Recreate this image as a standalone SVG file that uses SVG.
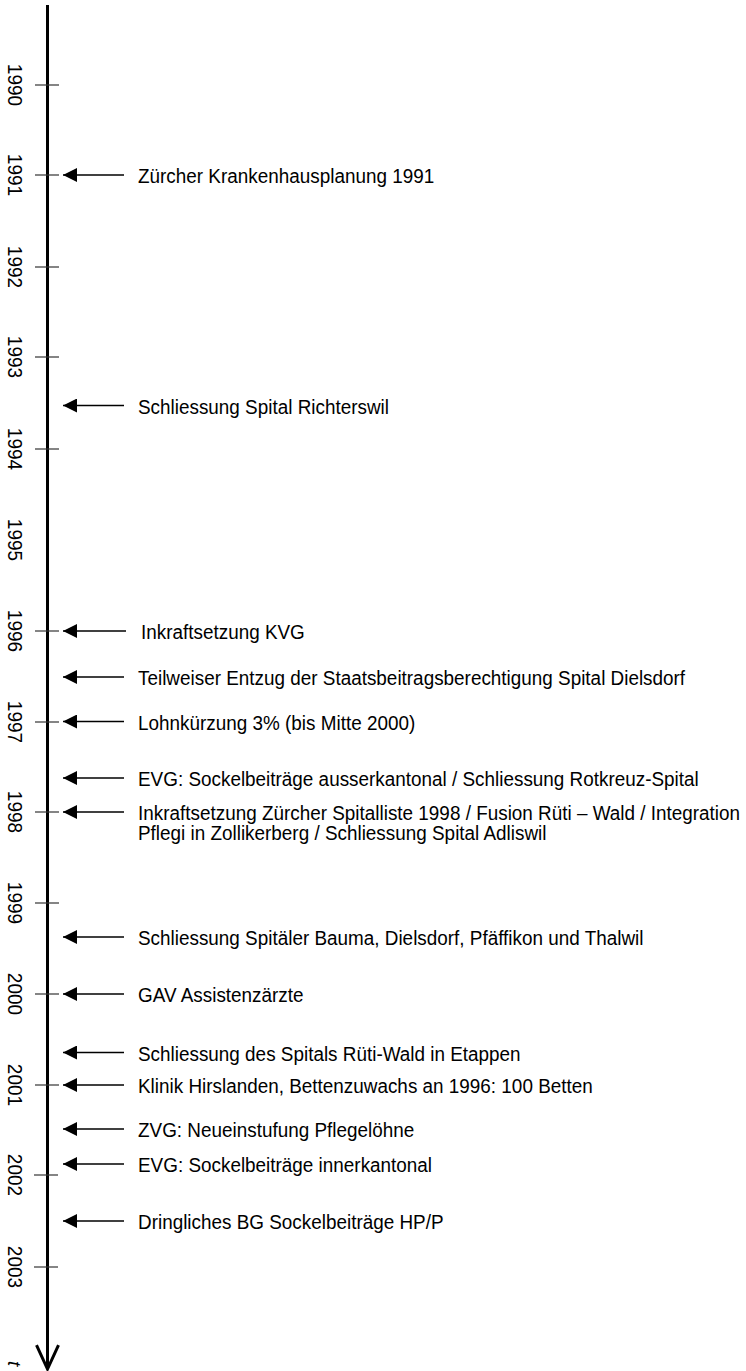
<svg xmlns="http://www.w3.org/2000/svg" width="746" height="1371" viewBox="0 0 746 1371">
<style>
.axis{stroke:#000;stroke-width:3;fill:none}
.tick{stroke:#333;stroke-width:1.2}
.conn{stroke:#000;stroke-width:1.3;fill:none}
.ev{font-family:"Liberation Sans",Arial,sans-serif;font-size:18.9px;fill:#000}
.yr{font-family:"Liberation Sans",Arial,sans-serif;font-size:19px;fill:#000;text-anchor:middle}
</style>
<defs>
<marker id="ah" markerWidth="14" markerHeight="14" refX="14" refY="7" orient="auto" markerUnits="userSpaceOnUse"><path d="M0,0 L14,7 L0,14 Z" fill="#000"/></marker>
</defs>
<rect width="746" height="1371" fill="#fff"/>
<g id="axis">
<line class="axis" x1="47.5" y1="5" x2="47.5" y2="1369"/>
<path class="axis" d="M36.5,1345 L47.5,1369 L58.5,1345" stroke-width="2.5"/>
<text transform="translate(8,1361) rotate(90)" class="ev" font-style="italic">t</text>
</g>
<g id="years">
<g id="y1990"><line class="tick" x1="35" y1="85" x2="59" y2="85"/><text class="yr" transform="translate(8,85) rotate(90) scale(1,1.1)">1990</text></g>
<g id="y1991"><line class="tick" x1="35" y1="175" x2="59" y2="175"/><text class="yr" transform="translate(8,175) rotate(90) scale(1,1.1)">1991</text></g>
<g id="y1992"><line class="tick" x1="35" y1="267" x2="59" y2="267"/><text class="yr" transform="translate(8,267) rotate(90) scale(1,1.1)">1992</text></g>
<g id="y1993"><line class="tick" x1="35" y1="357" x2="59" y2="357"/><text class="yr" transform="translate(8,357) rotate(90) scale(1,1.1)">1993</text></g>
<g id="y1994"><line class="tick" x1="35" y1="449" x2="59" y2="449"/><text class="yr" transform="translate(8,449) rotate(90) scale(1,1.1)">1994</text></g>
<g id="y1995"><text class="yr" transform="translate(8,540) rotate(90) scale(1,1.1)">1995</text></g>
<g id="y1996"><line class="tick" x1="35" y1="631" x2="59" y2="631"/><text class="yr" transform="translate(8,631) rotate(90) scale(1,1.1)">1996</text></g>
<g id="y1997"><line class="tick" x1="35" y1="722" x2="59" y2="722"/><text class="yr" transform="translate(8,722) rotate(90) scale(1,1.1)">1997</text></g>
<g id="y1998"><line class="tick" x1="35" y1="812" x2="59" y2="812"/><text class="yr" transform="translate(8,812) rotate(90) scale(1,1.1)">1998</text></g>
<g id="y1999"><line class="tick" x1="35" y1="903" x2="59" y2="903"/><text class="yr" transform="translate(8,903) rotate(90) scale(1,1.1)">1999</text></g>
<g id="y2000"><line class="tick" x1="35" y1="994" x2="59" y2="994"/><text class="yr" transform="translate(8,994) rotate(90) scale(1,1.1)">2000</text></g>
<g id="y2001"><line class="tick" x1="35" y1="1085" x2="59" y2="1085"/><text class="yr" transform="translate(8,1085) rotate(90) scale(1,1.1)">2001</text></g>
<g id="y2002"><line class="tick" x1="34" y1="1175" x2="58" y2="1175"/><text class="yr" transform="translate(8,1175) rotate(90) scale(1,1.1)">2002</text></g>
<g id="y2003"><line class="tick" x1="34" y1="1267" x2="58" y2="1267"/><text class="yr" transform="translate(8,1267) rotate(90) scale(1,1.1)">2003</text></g>
</g>
<g id="connectors">
<line class="conn" x1="124" y1="175" x2="63" y2="175" marker-end="url(#ah)"/>
<line class="conn" x1="124" y1="405.5" x2="63" y2="405.5" marker-end="url(#ah)"/>
<line class="conn" x1="126" y1="631" x2="63" y2="631" marker-end="url(#ah)"/>
<line class="conn" x1="124" y1="677" x2="63" y2="677" marker-end="url(#ah)"/>
<line class="conn" x1="124" y1="721.5" x2="63" y2="721.5" marker-end="url(#ah)"/>
<line class="conn" x1="124" y1="778" x2="63" y2="778" marker-end="url(#ah)"/>
<line class="conn" x1="124" y1="812" x2="63" y2="812" marker-end="url(#ah)"/>
<line class="conn" x1="124" y1="937" x2="63" y2="937" marker-end="url(#ah)"/>
<line class="conn" x1="124" y1="994" x2="63" y2="994" marker-end="url(#ah)"/>
<line class="conn" x1="124" y1="1052.5" x2="63" y2="1052.5" marker-end="url(#ah)"/>
<line class="conn" x1="124" y1="1085" x2="63" y2="1085" marker-end="url(#ah)"/>
<line class="conn" x1="124" y1="1129" x2="63" y2="1129" marker-end="url(#ah)"/>
<line class="conn" x1="124" y1="1164" x2="63" y2="1164" marker-end="url(#ah)"/>
<line class="conn" x1="124" y1="1221" x2="63" y2="1221" marker-end="url(#ah)"/>
</g>
<g id="e1991" transform="translate(138,183) scale(1,1.1)"><text class="ev">Zürcher Krankenhausplanung 1991</text></g>
<g id="e1993" transform="translate(138,413.5) scale(1,1.1)"><text class="ev">Schliessung Spital Richterswil</text></g>
<g id="e1996a" transform="translate(141,639) scale(1,1.1)"><text class="ev">Inkraftsetzung KVG</text></g>
<g id="e1996b" transform="translate(138,685) scale(1,1.1)"><text class="ev">Teilweiser Entzug der Staatsbeitragsberechtigung Spital Dielsdorf</text></g>
<g id="e1997a" transform="translate(138,729.5) scale(1,1.1)"><text class="ev">Lohnkürzung 3% (bis Mitte 2000)</text></g>
<g id="e1997b" transform="translate(138,786) scale(1,1.1)"><text class="ev">EVG: Sockelbeiträge ausserkantonal / Schliessung Rotkreuz-Spital</text></g>
<g id="e1998" transform="translate(138,819.5) scale(1,1.1)"><text class="ev">Inkraftsetzung Zürcher Spitalliste 1998 / Fusion Rüti – Wald / Integration<tspan x="0" dy="18.8">Pflegi in Zollikerberg / Schliessung Spital Adliswil</tspan></text></g>
<g id="e1999" transform="translate(138,945) scale(1,1.1)"><text class="ev">Schliessung Spitäler Bauma, Dielsdorf, Pfäffikon und Thalwil</text></g>
<g id="e2000a" transform="translate(138,1002) scale(1,1.1)"><text class="ev">GAV Assistenzärzte</text></g>
<g id="e2000b" transform="translate(138,1060.5) scale(1,1.1)"><text class="ev">Schliessung des Spitals Rüti-Wald in Etappen</text></g>
<g id="e2001a" transform="translate(138,1093) scale(1,1.1)"><text class="ev">Klinik Hirslanden, Bettenzuwachs an 1996: 100 Betten</text></g>
<g id="e2001b" transform="translate(138,1137) scale(1,1.1)"><text class="ev">ZVG: Neueinstufung Pflegelöhne</text></g>
<g id="e2002a" transform="translate(138,1172) scale(1,1.1)"><text class="ev">EVG: Sockelbeiträge innerkantonal</text></g>
<g id="e2002b" transform="translate(138,1229) scale(1,1.1)"><text class="ev">Dringliches BG Sockelbeiträge HP/P</text></g>
</svg>
